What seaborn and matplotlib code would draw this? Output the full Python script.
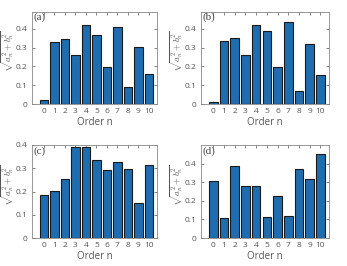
import matplotlib
matplotlib.use("Agg")
import matplotlib.pyplot as plt
import pandas as pd
import seaborn as sns

orders = list(range(11))
amp_a = [0.023, 0.330, 0.348, 0.259, 0.420, 0.370, 0.196, 0.409, 0.091, 0.305, 0.162]
amp_b = [0.011, 0.336, 0.350, 0.260, 0.421, 0.387, 0.196, 0.434, 0.071, 0.318, 0.152]
amp_c = [0.186, 0.203, 0.254, 0.390, 0.393, 0.334, 0.294, 0.326, 0.297, 0.150, 0.316]
amp_d = [0.304, 0.107, 0.387, 0.278, 0.280, 0.113, 0.227, 0.120, 0.371, 0.318, 0.451]
panel_labels = ["(a)", "(b)", "(c)", "(d)"]
y_tops = [0.49, 0.49, 0.40, 0.50]

sns.set_style("white")
plt.rcParams["font.family"] = ["Open Sans", "DejaVu Sans"]
plt.rcParams["mathtext.fontset"] = "cm"

text_col = "#555555"
bar_col = "#1f6db1"

fig = plt.figure(figsize=(3.47, 2.66), dpi=100)
positions = [
    [0.092, 0.609, 0.361, 0.346],
    [0.579, 0.609, 0.369, 0.346],
    [0.092, 0.105, 0.361, 0.350],
    [0.579, 0.105, 0.369, 0.350],
]

for pos, vals, lab, ytop in zip(positions, [amp_a, amp_b, amp_c, amp_d], panel_labels, y_tops):
    ax = fig.add_axes(pos)
    df = pd.DataFrame({"order": orders, "amp": vals})
    sns.barplot(data=df, x="order", y="amp", order=orders, color=bar_col,
                saturation=1, width=0.8, edgecolor="#1a1a1a", linewidth=0.8, ax=ax)
    ax.set_xlim(-1.15, 10.8)
    ax.set_ylim(0, ytop)
    ax.set_yticks([0, 0.1, 0.2, 0.3, 0.4])
    ax.set_yticklabels(["0", "0.1", "0.2", "0.3", "0.4"])
    ax.tick_params(direction="in", length=2, width=0.5, colors=text_col,
                   labelsize=6, top=True, right=True, bottom=True, left=True)
    ax.tick_params(axis="y", pad=3)
    ax.tick_params(axis="x", pad=3)
    for sp in ax.spines.values():
        sp.set_color("#888888")
        sp.set_linewidth(0.6)
    ax.set_xlabel("Order n", fontsize=7, color=text_col, labelpad=1)
    ax.set_ylabel(r"$\sqrt{a_n^2+b_n^2}$", fontsize=6.5, color=text_col)
    ax.yaxis.set_label_coords(-16 / (pos[2] * 347), 0.57)
    ax.text(0.01, 0.99, lab, transform=ax.transAxes, ha="left", va="top",
            fontsize=8, family="Liberation Serif", color="#444444")

fig.savefig("out.png", dpi=100)
